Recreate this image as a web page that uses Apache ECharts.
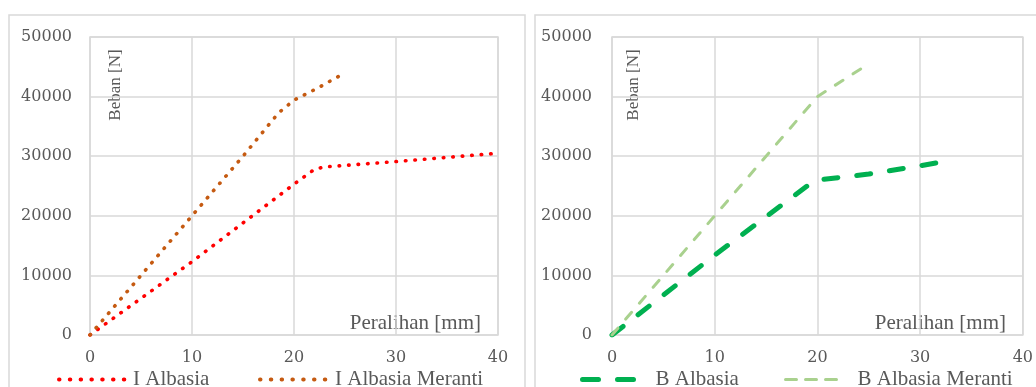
<!DOCTYPE html>
<html>
<head>
<meta charset="utf-8">
<script src="https://cdn.jsdelivr.net/npm/echarts@6/dist/echarts.min.js"></script>
<style>
html,body{margin:0;padding:0;background:#fff;}
#c{width:1036px;height:387px;}
</style>
</head>
<body>
<div id="c"></div>
<script>
// ---- data ----
const iAlbasia = [[0,0],[10,12300],[20,25300],[22,27800],[23,28200],[30,29100],[40,30500]];
const iAlbasiaMeranti = [[0,0],[5,10000],[10,20000],[15,30000],[18.5,37300],[20,39400],[22.5,41600],[25,44000]];
const bAlbasia = [[0,0],[10,13400],[19,25000],[20,26000],[25,27000],[30,28400],[32,29000]];
const bAlbasiaMeranti = [[0,0],[10,20000],[20,40000],[25,45500]];
const xTicks = [0,10,20,30,40];
const yTicks = [0,10000,20000,30000,40000,50000];
const seriesNames = ['I Albasia','I Albasia Meranti','B Albasia','B Albasia Meranti'];
const yAxisTitle = 'Beban [N]';
const xAxisTitle = 'Peralihan [mm]';

const grey = '#595959';
const gridCol = '#D9D9D9';
const serif = 'Liberation Serif';
const tickFont = 'DejaVu Serif';

function xAx(gi){
  return {gridIndex:gi,type:'value',min:xTicks[0],max:xTicks[xTicks.length-1],interval:xTicks[1]-xTicks[0],
    axisLine:{show:false},axisTick:{show:false},
    splitLine:{show:true,lineStyle:{color:gridCol,width:1.5}},
    axisLabel:{color:grey,fontFamily:tickFont,fontSize:16,margin:15,formatter:v=>String(v)}};
}
function yAx(gi){
  return {gridIndex:gi,type:'value',min:yTicks[0],max:yTicks[yTicks.length-1],interval:yTicks[1]-yTicks[0],
    axisLine:{show:false},axisTick:{show:false},
    splitLine:{show:true,lineStyle:{color:gridCol,width:1.5}},
    axisLabel:{color:grey,fontFamily:tickFont,fontSize:16,margin:gi===0?18:20,formatter:v=>String(v)}};
}
function legendAt(name,left,w,pad,ls){
  const o = {data:[name],left:left,top:369,itemWidth:w,itemHeight:14,padding:0,
    itemStyle:{opacity:0},
    textStyle:{color:grey,fontFamily:serif,fontSize:21,padding:[0,0,0,pad]},selectedMode:false};
  if (ls) o.lineStyle = ls;
  return o;
}
function label(text,x,y,size,rot,align){
  return {type:'text',x:x,y:y,rotation:rot,silent:true,
    style:{text:text,fill:grey,fontFamily:serif,fontSize:size,textAlign:align,textVerticalAlign:'middle'}};
}
const chart = echarts.init(document.getElementById('c'),null,{renderer:'canvas'});
chart.setOption({
  animation:false,
  backgroundColor:'#fff',
  grid:[
    {left:90,top:37,width:408,height:298,show:true,borderColor:gridCol,borderWidth:1.5,backgroundColor:'transparent'},
    {left:612,top:37,width:411,height:298,show:true,borderColor:gridCol,borderWidth:1.5,backgroundColor:'transparent'}
  ],
  xAxis:[xAx(0),xAx(1)],
  yAxis:[yAx(0),yAx(1)],
  legend:[
    legendAt(seriesNames[0],57,66,3,{width:4,type:[0.5,10.3],cap:'round'}),
    legendAt(seriesNames[1],258,67,3,{width:4,type:[0.5,10.3],cap:'round'}),
    legendAt(seriesNames[2],580,56,12,{width:5,type:[16,19],cap:'round'}),
    legendAt(seriesNames[3],784,56,11,{width:3,type:[11,9],cap:'round'})
  ],
  graphic:[
    {type:'rect',shape:{x:9,y:15,width:516,height:400},style:{fill:'none',stroke:gridCol,lineWidth:1.5},silent:true,z:-1},
    {type:'rect',shape:{x:535,y:15,width:520,height:400},style:{fill:'none',stroke:gridCol,lineWidth:1.5},silent:true,z:-1},
    label(yAxisTitle,116,85,17,Math.PI/2,'center'),
    label(yAxisTitle,634,85,17,Math.PI/2,'center'),
    label(xAxisTitle,481,323,21,0,'right'),
    label(xAxisTitle,1006,323,21,0,'right')
  ],
  series:[
    {name:seriesNames[0],type:'line',xAxisIndex:0,yAxisIndex:0,data:iAlbasia,symbol:'circle',showSymbol:false,color:'#FF0000',
      lineStyle:{color:'#FF0000',width:3.6,type:[0.5,9],cap:'round'}},
    {name:seriesNames[1],type:'line',xAxisIndex:0,yAxisIndex:0,data:iAlbasiaMeranti,symbol:'circle',showSymbol:false,color:'#C55A11',
      lineStyle:{color:'#C55A11',width:3.6,type:[0.5,9],cap:'round'}},
    {name:seriesNames[2],type:'line',xAxisIndex:1,yAxisIndex:1,data:bAlbasia,symbol:'circle',showSymbol:false,color:'#00B050',
      lineStyle:{color:'#00B050',width:5,type:[14,19],cap:'round'}},
    {name:seriesNames[3],type:'line',xAxisIndex:1,yAxisIndex:1,data:bAlbasiaMeranti,symbol:'circle',showSymbol:false,color:'#A9D18E',
      lineStyle:{color:'#A9D18E',width:3,type:[9,12],cap:'round'}}
  ]
});
</script>
</body>
</html>
